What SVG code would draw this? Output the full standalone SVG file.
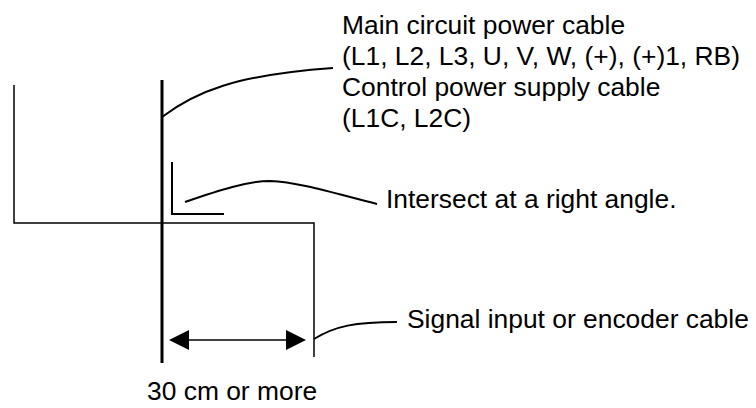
<svg xmlns="http://www.w3.org/2000/svg" width="756" height="408" viewBox="0 0 756 408">
  <style>
    .thin { fill: none; stroke: #000; stroke-width: 1.5; }
    .thick { fill: none; stroke: #000; stroke-width: 3; }
    .lead { fill: none; stroke: #000; stroke-width: 2; }
    .lbl { font-family: "Liberation Sans", Arial, sans-serif; font-size: 26.4px; fill: #000; }
  </style>
  <defs>
    <marker id="ah" viewBox="0 0 20 20" markerUnits="userSpaceOnUse" markerWidth="20" markerHeight="20" refX="17" refY="10" orient="auto-start-reverse">
      <path d="M0,0 L20,10 L0,20 Z" fill="#000"/>
    </marker>
  </defs>
  <rect width="756" height="408" fill="#fff"/>

  <g id="signal-cable">
    <polyline class="thin" points="14,85 14,223 314,223 314,357"/>
  </g>
  <g id="power-cable">
    <line class="thick" x1="162" y1="80" x2="162" y2="363"/>
  </g>
  <g id="right-angle-mark">
    <polyline class="lead" points="172,162 172,214 224,214"/>
  </g>

  <g id="connectors">
    <path class="lead" d="M162,117 C195,92 235,75 333,68"/>
    <path class="lead" d="M185,202 C220,190 248,181 270,181 C300,182 340,195 377,204"/>
    <path class="lead" d="M314,339 C335,326 355,322 397,322"/>
    <line class="thin" x1="172" y1="340" x2="303" y2="340" marker-start="url(#ah)" marker-end="url(#ah)"/>
  </g>

  <g id="label-power">
    <text class="lbl" x="342" y="34">Main circuit power cable</text>
    <text class="lbl" x="342" y="65">(L1, L2, L3, U, V, W, (+), (+)1, RB)</text>
    <text class="lbl" x="342" y="96">Control power supply cable</text>
    <text class="lbl" x="342" y="127">(L1C, L2C)</text>
  </g>
  <g id="label-angle">
    <text class="lbl" x="386" y="208">Intersect at a right angle.</text>
  </g>
  <g id="label-signal">
    <text class="lbl" x="407" y="328">Signal input or encoder cable</text>
  </g>
  <g id="label-distance">
    <text class="lbl" x="147" y="400">30 cm or more</text>
  </g>
</svg>
